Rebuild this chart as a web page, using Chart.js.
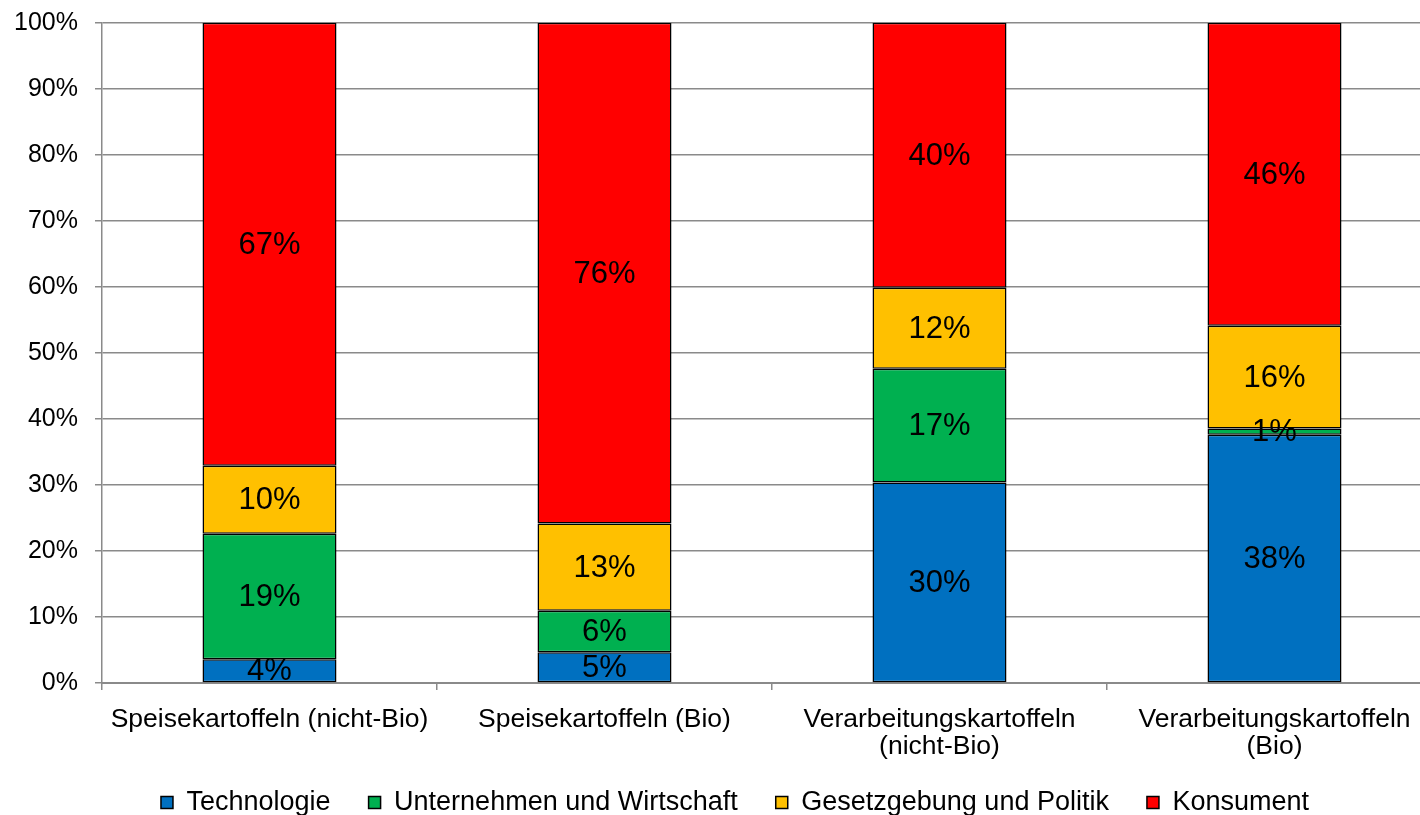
<!DOCTYPE html>
<html>
<head>
<meta charset="utf-8">
<script src="https://cdn.jsdelivr.net/npm/chart.js@4.4.1/dist/chart.umd.min.js"></script>
<style>
  html, body { margin: 0; padding: 0; background: #fff; }
  #wrap { width: 1420px; height: 815px; position: relative; }
</style>
</head>
<body>
<div id="wrap"><canvas id="c"></canvas></div>
<script>
const categories = [
  ['Speisekartoffeln (nicht-Bio)'],
  ['Speisekartoffeln (Bio)'],
  ['Verarbeitungskartoffeln', '(nicht-Bio)'],
  ['Verarbeitungskartoffeln', '(Bio)']
];
const seriesNames = ['Technologie', 'Unternehmen und Wirtschaft', 'Gesetzgebung und Politik', 'Konsument'];
const technologie = [3.6, 4.65, 30.35, 37.6];
const unternehmen = [19.0, 6.3, 17.25, 0.95];
const gesetzgebung = [10.3, 13.2, 12.25, 15.55];
const konsument = [67.1, 75.85, 40.15, 45.9];
const seriesColors = ['#0070C0', '#00B050', '#FFC000', '#FF0000'];
const yTicks = [0, 10, 20, 30, 40, 50, 60, 70, 80, 90, 100];

const FONT = "'Liberation Sans', Arial, sans-serif";
const GRID = '#8a8a8a';
const EXTEND_RIGHT = 22;

const labelPlugin = {
  id: 'segLabels',
  afterLayout(chart) {
    if (chart.legend) { chart.legend.left += 25; chart.legend.right += 25; }
    const x = chart.scales.x;
    if (x) {
      x.bottom = chart.height;
      x.right += EXTEND_RIGHT;
      x.width += EXTEND_RIGHT;
      x.configure();
      chart.chartArea.right += EXTEND_RIGHT;
      chart.chartArea.width += EXTEND_RIGHT;
    }
  },
  afterDatasetsDraw(chart) {
    const ctx = chart.ctx;
    ctx.save();
    ctx.font = '31px ' + FONT;
    ctx.fillStyle = '#000';
    ctx.textAlign = 'center';
    ctx.textBaseline = 'middle';
    chart.data.datasets.forEach((ds, i) => {
      const meta = chart.getDatasetMeta(i);
      meta.data.forEach((el, j) => {
        const p = el.getCenterPoint();
        ctx.fillText(Math.round(ds.data[j]) + '%', p.x, p.y + 1);
      });
    });
    ctx.restore();
  }
};

const allSeries = [technologie, unternehmen, gesetzgebung, konsument];
new Chart(document.getElementById('c'), {
  type: 'bar',
  data: {
    labels: categories,
    datasets: allSeries.map((d, i) => ({
      label: seriesNames[i],
      data: d,
      backgroundColor: seriesColors[i],
      borderColor: '#000',
      borderWidth: 1.5,
      borderSkipped: false,
      categoryPercentage: 1,
      barPercentage: 0.4
    }))
  },
  options: {
    responsive: true,
    maintainAspectRatio: false,
    animation: false,
    layout: { padding: { top: 22.7, right: 0, bottom: -11, left: 0 } },
    plugins: {
      tooltip: { enabled: false },
      legend: {
        position: 'bottom',
        labels: {
          font: { family: FONT, size: 27 },
          color: '#000',
          boxWidth: 12,
          boxHeight: 12,
          padding: 38
        }
      }
    },
    scales: {
      x: {
        stacked: true,
        offset: true,
        grid: { offset: true, drawOnChartArea: false, drawTicks: true, tickLength: 7, color: GRID, lineWidth: 1.5 },
        border: { color: GRID, width: 2 },
        ticks: {
          font: { family: FONT, size: 26.5, lineHeight: 1.03 },
          color: '#000',
          maxRotation: 0,
          autoSkip: false,
          padding: 16
        },
        afterFit(scale) { scale.height = 68; }
      },
      y: {
        stacked: true,
        min: 0,
        max: 100,
        afterBuildTicks(scale) { scale.ticks = yTicks.map(v => ({ value: v })); },
        grid: { color: GRID, lineWidth: 1.5, tickLength: 7 },
        border: { color: GRID, width: 1.5 },
        ticks: {
          font: { family: FONT, size: 25 },
          color: '#000',
          padding: 17,
          callback: v => v + '%'
        },
        afterFit(scale) { scale.width = 102; scale.paddingTop = 0; scale.paddingBottom = 0; }
      }
    }
  },
  plugins: [labelPlugin]
});
</script>
</body>
</html>
